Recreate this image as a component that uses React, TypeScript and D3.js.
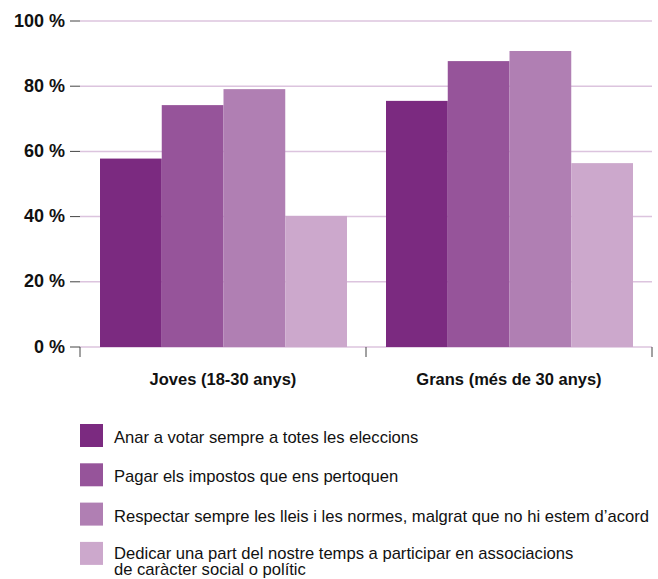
import { useEffect, useRef } from 'react'
import * as d3 from 'd3'

const W = 658, H = 579
const M = { top: 21, left: 80, right: 6, bottom: 232 }

const groups = ['Joves (18-30 anys)', 'Grans (més de 30 anys)']
const series = [
  'Anar a votar sempre a totes les eleccions',
  'Pagar els impostos que ens pertoquen',
  'Respectar sempre les lleis i les normes, malgrat que no hi estem d\u2019acord',
  'Dedicar una part del nostre temps a participar en associacions\nde caràcter social o polític',
]
const colors = ['#7b2a80', '#96549a', '#b07fb3', '#cca8cc']
// values per series: [Joves, Grans]
const votar = [57.8, 75.5]
const impostos = [74.2, 87.7]
const lleis = [79.1, 90.8]
const associacions = [40.2, 56.4]
const yTicks = [0, 20, 40, 60, 80, 100]

const FONT = '"Liberation Sans", Arial, Helvetica, sans-serif'

export default function App() {
  const svgRef = useRef<SVGSVGElement>(null)

  useEffect(() => {
    const svg = d3.select(svgRef.current!)
    svg.selectAll('*').remove()

    const values = [votar, impostos, lleis, associacions]
    const x0 = d3.scaleBand<string>().domain(groups).range([M.left, W - M.right]).padding(0)
    const x1 = d3.scaleBand<number>().domain(d3.range(series.length))
      .range([20, x0.bandwidth() - 19]).padding(0)
    const y = d3.scaleLinear().domain([0, 100]).range([H - M.bottom, M.top])

    // gridlines
    svg.append('g').selectAll('line').data(yTicks).join('line')
      .attr('x1', M.left).attr('x2', W - M.right)
      .attr('y1', d => y(d)).attr('y2', d => y(d))
      .attr('stroke', '#dcc4de').attr('stroke-width', 1.5)

    // y axis ticks + labels
    const ya = svg.append('g')
    ya.selectAll('line').data(yTicks).join('line')
      .attr('x1', M.left - 10).attr('x2', M.left)
      .attr('y1', d => y(d)).attr('y2', d => y(d))
      .attr('stroke', '#444').attr('stroke-width', 1)
    ya.selectAll('text').data(yTicks).join('text')
      .attr('x', M.left - 15).attr('y', d => y(d) + 5.5)
      .attr('text-anchor', 'end')
      .attr('font-family', FONT).attr('font-weight', 'bold').attr('font-size', 18)
      .attr('fill', '#111').text(d => `${d} %`)

    // bars
    groups.forEach((g, gi) => {
      svg.append('g').selectAll('rect').data(values.map(v => v[gi])).join('rect')
        .attr('x', (_, i) => x0(g)! + x1(i)!)
        .attr('width', x1.bandwidth())
        .attr('y', d => y(d))
        .attr('height', d => y(0) - y(d))
        .attr('fill', (_, i) => colors[i])
    })

    // x axis ticks
    const bounds = [...groups.map(g => x0(g)!), x0(groups[1])! + x0.bandwidth()]
    svg.append('g').selectAll('line').data(bounds).join('line')
      .attr('x1', d => d).attr('x2', d => d)
      .attr('y1', y(0)).attr('y2', y(0) + 10)
      .attr('stroke', '#444').attr('stroke-width', 1)
    svg.append('g').selectAll('text').data(groups).join('text')
      .attr('x', d => x0(d)! + x0.bandwidth() / 2).attr('y', y(0) + 38)
      .attr('text-anchor', 'middle')
      .attr('font-family', FONT).attr('font-weight', 'bold').attr('font-size', 16.5)
      .attr('fill', '#111').text(d => d)

    // legend
    const lg = svg.append('g')
    series.forEach((s, i) => {
      const ty = 424 + i * 39.3
      const lines = s.split('\n')
      lg.append('rect').attr('x', 80).attr('y', ty).attr('width', 23).attr('height', 23)
        .attr('fill', colors[i])
      const t = lg.append('text').attr('x', 114).attr('y', ty + (lines.length > 1 ? 17 : 19))
        .attr('font-family', FONT).attr('font-size', 16.6).attr('fill', '#111')
      lines.forEach((line, li) => {
        t.append('tspan').attr('x', 114).attr('dy', li === 0 ? 0 : 16).text(line)
      })
    })
  }, [])

  return (
    <svg ref={svgRef} width={W} height={H} viewBox={`0 0 ${W} ${H}`}
      style={{ position: 'absolute', left: 0, top: 0, background: '#fff' }} />
  )
}
